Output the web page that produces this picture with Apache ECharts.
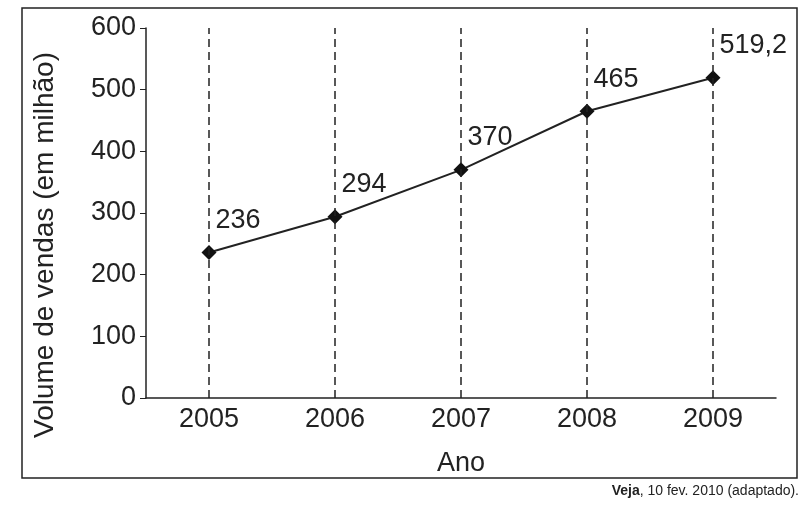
<!DOCTYPE html><html><head><meta charset="utf-8"><script src="https://cdn.jsdelivr.net/npm/echarts@6/dist/echarts.min.js"></script></head><body style="margin:0;background:#fff"><div id="c" style="width:811px;height:505px"></div><script>
const categories=['2005','2006','2007','2008','2009'];
const values=[236,294,370,465,519.2];
const labels=['236','294','370','465','519,2'];
const F='Liberation Sans, Arial, sans-serif';
const ch=echarts.init(document.getElementById('c'));
ch.setOption({animation:false,
grid:{left:146,width:630,top:28,bottom:107},
xAxis:{type:'category',data:categories,boundaryGap:true,name:'Ano',nameLocation:'middle',nameGap:52,
 nameTextStyle:{fontSize:27,color:'#222',fontFamily:F},
 axisLine:{lineStyle:{color:'#222',width:1.5}},axisTick:{show:false},
 axisLabel:{fontSize:27,color:'#222',fontFamily:F,margin:8}},
yAxis:{type:'value',min:0,max:600,interval:100,
 axisLine:{show:true,lineStyle:{color:'#222',width:1.5}},axisTick:{show:true,length:6,lineStyle:{color:'#222'}},
 splitLine:{show:false},axisLabel:{fontSize:27,color:'#222',fontFamily:F,margin:10}},
series:[{type:'line',data:values,symbol:'diamond',symbolSize:15,itemStyle:{color:'#111'},lineStyle:{color:'#222',width:2},
 label:{show:true,position:'right',offset:[-6,-32],fontSize:27,color:'#222',fontFamily:F,formatter:p=>labels[p.dataIndex]},
 markLine:{silent:true,symbol:'none',label:{show:false},lineStyle:{type:[8,5],color:'#222',width:1.5},
  data:categories.map(c=>({xAxis:c}))}}],
graphic:[{type:'rect',shape:{x:22,y:8,width:775,height:470},style:{fill:'none',stroke:'#222',lineWidth:1.5}},
 {type:'text',x:45,y:245,rotation:Math.PI/2,style:{text:'Volume de vendas (em milhão)',fontSize:28,fontFamily:F,fill:'#222',align:'center',verticalAlign:'middle'}},
 {type:'text',right:12,top:484,style:{rich:{b:{fontWeight:'bold',fontSize:14,fontFamily:F,fill:'#222'},n:{fontSize:14,fontFamily:F,fill:'#222'}},text:'{b|Veja}{n|, 10 fev. 2010 (adaptado).}'}}]
});
</script></body></html>
